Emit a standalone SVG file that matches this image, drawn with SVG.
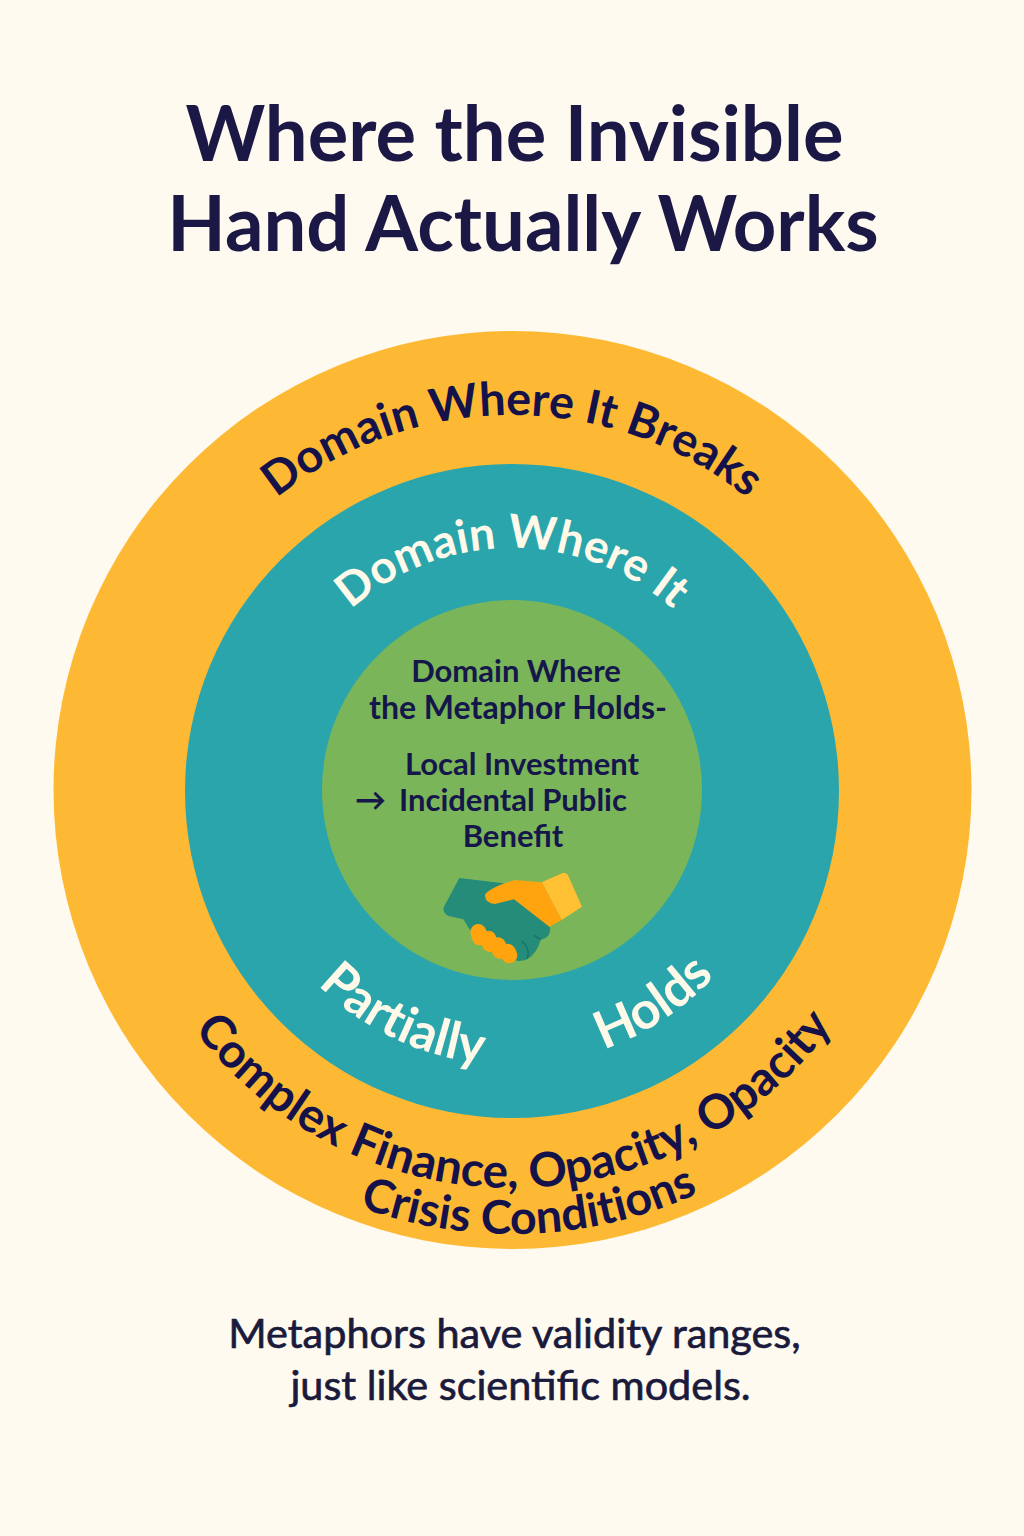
<svg xmlns="http://www.w3.org/2000/svg" width="1024" height="1536" viewBox="0 0 1024 1536">
<style>
text{font-family:"Lato","Noto Sans",sans-serif}
.title{font-size:76px;font-weight:700;fill:#1B1846;text-anchor:middle}
.c{font-size:31px;font-weight:700;fill:#15174A}
.m{text-anchor:middle}
.cap{font-size:41.4px;font-weight:400;fill:#1A1A3C;stroke:#1A1A3C;stroke-width:.7;text-anchor:middle}
.o{font-size:46.6px;font-weight:700;fill:#15124A;text-anchor:middle;font-variant-ligatures:none}
.t{font-size:46px;font-weight:700;fill:#FFF9EA;text-anchor:middle;font-variant-ligatures:none}
</style>
<defs>
<path id="oTop" d="M137 790A375 375 0 0 1 887 790"/>
<path id="mTop" d="M270 790A242 242 0 0 1 754 790"/>
<path id="oBot1" d="M114 790A398 398 0 0 0 910 790"/>
<path id="oBot2" d="M68 790A444 444 0 0 0 956 790"/>
<path id="mBot" d="M237 790A275 275 0 0 0 787 790"/>
</defs>
<rect id="background" width="1024" height="1536" fill="#FFFAF0"/>
<g id="title"><text class="title" x="514.5" y="161">Where the Invisible</text><text class="title" x="523" y="251">Hand Actually Works</text></g>
<g id="outer-ring"><circle cx="512.5" cy="790" r="459" fill="#FDB933"/>
<text class="o"><textPath href="#oTop" startOffset="50%">Domain Where It Breaks</textPath></text>
<text class="o" style="font-size:47.6px"><textPath href="#oBot1" startOffset="50.2%">Complex Finance, Opacity, Opacity</textPath></text>
<text class="o"><textPath href="#oBot2" startOffset="51.3%">Crisis Conditions</textPath></text>
</g>
<g id="middle-ring"><circle cx="512" cy="791" r="327" fill="#2BA5AC"/>
<text class="t"><textPath href="#mTop" startOffset="50%">Domain Where It</textPath></text>
<text class="t" style="font-size:51px"><textPath href="#mBot" startOffset="35.8%">Partially</textPath></text>
<text class="t" style="font-size:52px"><textPath href="#mBot" startOffset="68.6%">Holds</textPath></text>
</g>
<g id="inner-circle"><circle cx="512" cy="790" r="190" fill="#7AB559"/>
<text class="c m" x="516" y="682">Domain Where</text>
<text class="c m" x="518" y="719" style="font-size:32px">the Metaphor Holds-</text>
<text class="c m" x="522" y="775">Local Investment</text>
<text class="c" x="355" y="811">→</text><text class="c" x="399" y="811">Incidental Public</text>
<text class="c m" x="513" y="847">Benefit</text>
</g>
<g id="handshake" transform="translate(420 850) scale(.3333)">
<path d="M118 84L250 100L390 232Q394 262 362 270Q352 308 322 328Q290 340 260 322L150 240L130 208L85 198Q64 186 73 168Z" fill="#248C79"/>
<path d="M365 97L430 68Q440 68 445 78L486 170L425 210Z" fill="#FFC034"/>
<path d="M285 90L365 97L425 210L388 230L282 148L225 162Q195 160 195 135Q205 115 285 90Z" fill="#FFA40E"/>
<path d="M362 268Q350 262 342 256M322 326Q332 295 305 272" fill="none" stroke="#1B6F66" stroke-width="4"/>
<g stroke="#FFA40E" stroke-width="48" stroke-linecap="round"><path d="M175 246L180 262"/><path d="M205 266L210 282"/><path d="M234 286L240 302"/><path d="M263 305L268 316"/></g>
</g>
<g id="caption"><text class="cap" x="514.5" y="1348">Metaphors have validity ranges,</text><text class="cap" x="520.5" y="1400">just like scientific models.</text></g>
</svg>
